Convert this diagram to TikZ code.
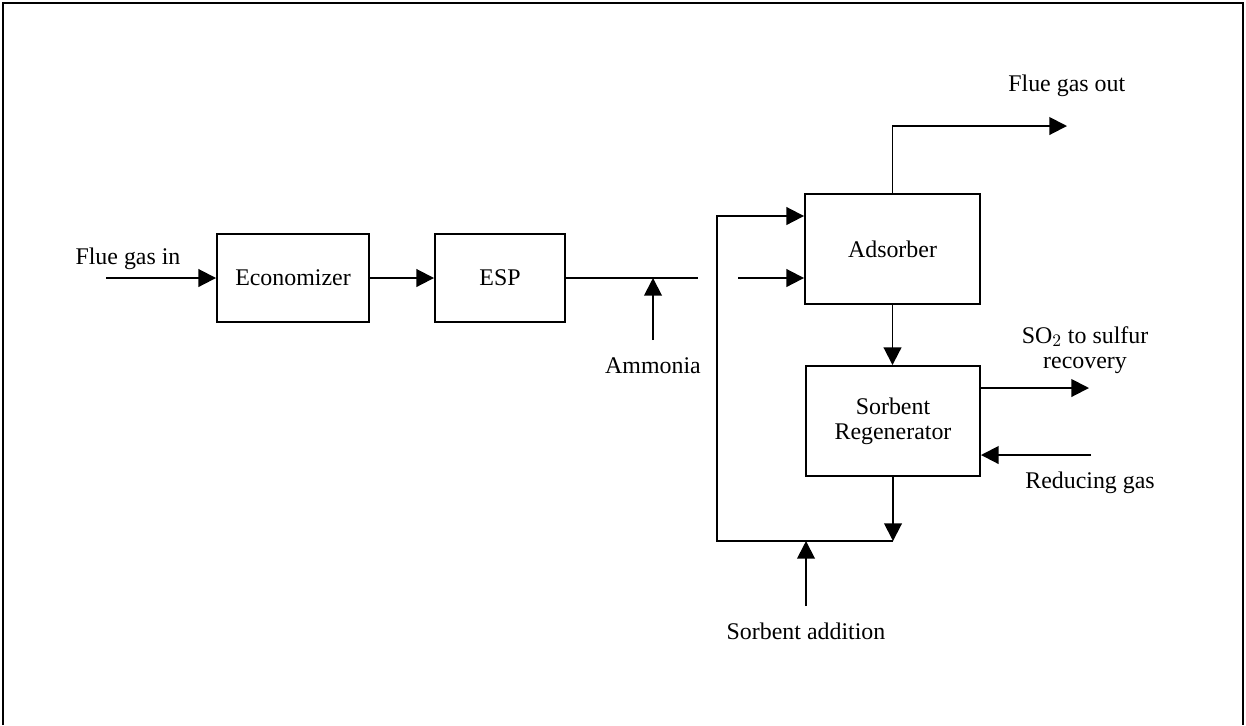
\documentclass[tikz,border=0pt]{standalone}
\usepackage{fontspec}
\setmainfont{Liberation Serif}
\usepackage{tikz}
\usetikzlibrary{arrows.meta,positioning,calc}

\begin{document}
\begin{tikzpicture}[x=0.02cm, y=-0.02cm, >={Triangle[length=10pt,width=10pt]}]
        \tikzset{unit/.style={rectangle, draw, line width=1.1pt, align=center, minimum height=1.76cm, inner sep=0pt},
                 flow/.style={->, line width=1.1pt},
                 lbl/.style={align=center, inner sep=0pt, font=\fontsize{13.6}{14}\selectfont}}
        \useasboundingbox (0,0) rectangle (1246,725);
        \draw[line width=1.5pt] (3,725) -- (3,3) -- (1243,3) -- (1243,725);
        % process units
        \node[unit, lbl, minimum height=1.76cm, minimum width=3.04cm] (econ) at (293,278) {Economizer};
        \node[unit, lbl, minimum height=1.76cm, minimum width=2.6cm] (esp) at (500,278) {ESP};
        \node[unit, lbl, minimum height=2.2cm, minimum width=3.5cm] (ads) at (892.5,249) {Adsorber};
        \node[unit, lbl, minimum height=2.2cm, minimum width=3.48cm] (regen) at (893,421) {Sorbent\\Regenerator};
        % stream labels
        \node[lbl] (fgin) at (128,259) {Flue gas in};
        \node[lbl] (amm) at (653,366) {Ammonia};
        \node[lbl, anchor=west] (fgout) at (1008,86) {Flue gas out};
        \node[lbl, font=\fontsize{13.6}{14.5}\selectfont] (so2lbl) at (1085,350) {SO$_2$ to sulfur\\recovery};
        \node[lbl] (redlbl) at (1090,483) {Reducing gas};
        \node[lbl] (sorb) at (806,631) {Sorbent addition};
        % free ends
        \coordinate (in0) at (106,278);
        \coordinate (espout) at (698,278);
        \coordinate (amm0) at (653,340);
        \coordinate (amm1) at (653,278);
        \coordinate (gap0) at (738,278);
        \coordinate (looptop) at (717,216);
        \coordinate (loopbl) at (717,541);
        \coordinate (loopbr) at (893,541);
        \coordinate (sorb0) at (806,606);
        \coordinate (outend) at (1067,126);
        \coordinate (so2end) at (1089,388);
        \coordinate (red0) at (1091,455);
        % streams
        \draw[flow] (in0) -- (econ);
        \draw[flow] (econ) -- (esp);
        \draw[line width=1.1pt] (esp) -- (espout);
        \draw[flow] (amm0) -- (amm1);
        \draw[flow] (gap0) -- (gap0 -| ads.west);
        \draw[flow] (loopbr) -- (loopbl) -- (looptop) -- (looptop -| ads.west);
        \draw[flow] (regen.south) -- (loopbr);
        \draw[flow] (sorb0) -- (sorb0 |- loopbl);
        \draw[flow] (ads.south) -- (ads.south |- regen.north);
        \draw[flow] (ads.north) |- (outend);
        \draw[flow] (so2end -| regen.east) -- (so2end);
        \draw[flow] (red0) -- (red0 -| regen.east);
    \end{tikzpicture}
\end{document}
